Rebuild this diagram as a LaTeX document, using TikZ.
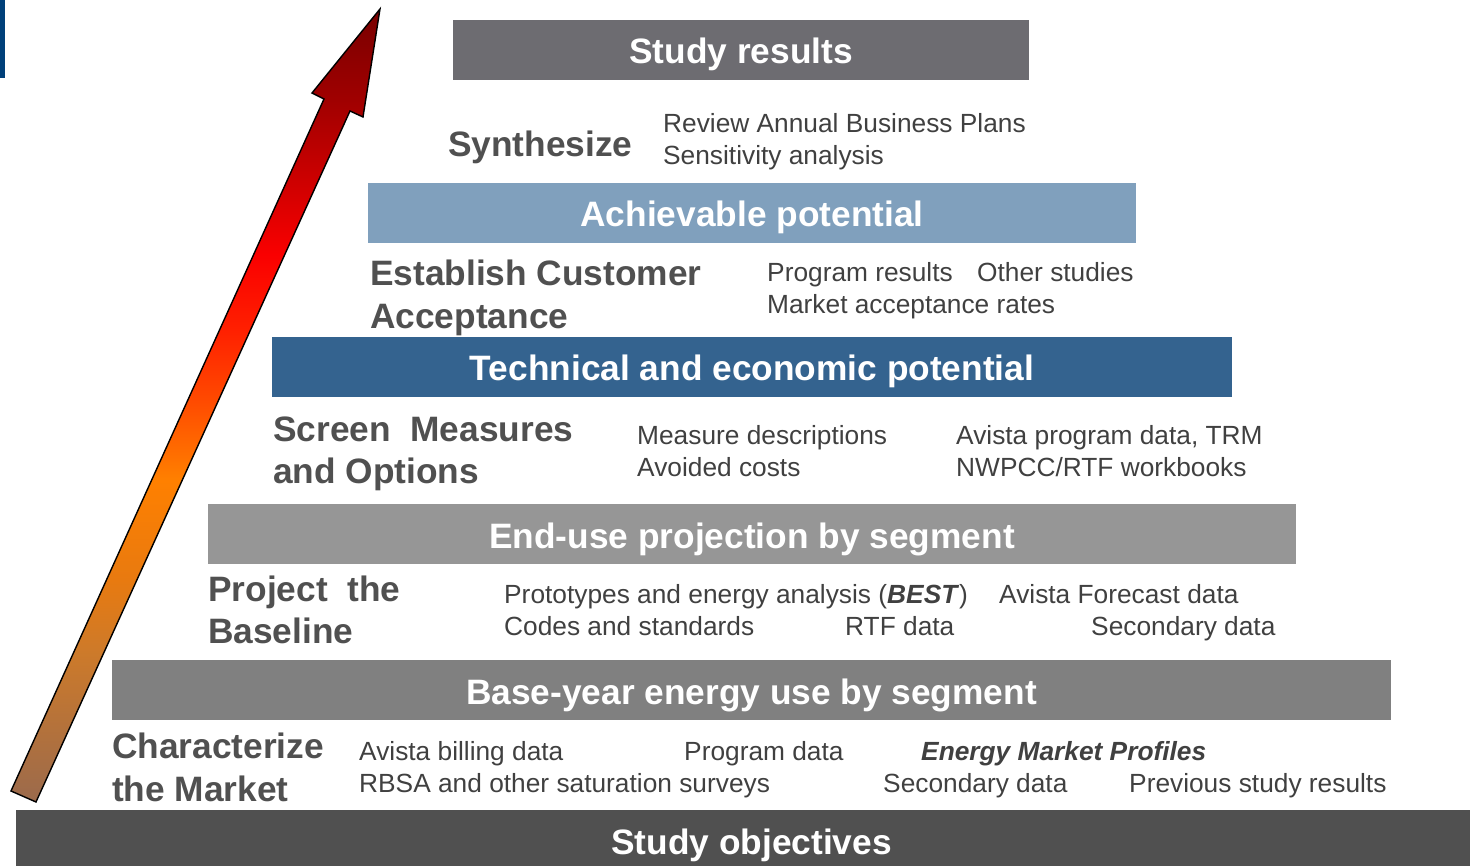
\documentclass[tikz,border=0pt]{standalone}
\usepackage{fontspec}
\setmainfont{Liberation Sans}
\definecolor{cSR}{RGB}{109,108,113}
\definecolor{cAP}{RGB}{128,160,189}
\definecolor{cTE}{RGB}{52,99,143}
\definecolor{cEU}{RGB}{150,150,150}
\definecolor{cBY}{RGB}{128,128,128}
\definecolor{cSO}{RGB}{80,80,80}
\definecolor{cLogo}{RGB}{0,64,122}
\definecolor{lblgray}{RGB}{80,80,80}
\definecolor{txtgray}{RGB}{64,64,64}
\definecolor{ab0}{RGB}{155,106,76}
\definecolor{ab1}{RGB}{205,122,42}
\definecolor{ab2}{RGB}{232,122,16}
\definecolor{ab3}{RGB}{255,128,0}
\definecolor{ab4}{RGB}{255,74,0}
\definecolor{ab5}{RGB}{255,32,0}
\definecolor{ab6}{RGB}{250,0,0}
\definecolor{ab7}{RGB}{216,0,0}
\definecolor{ab8}{RGB}{160,0,0}
\definecolor{ab9}{RGB}{120,0,0}
\pgfdeclareverticalshading{arrowsh}{100bp}{color(0bp)=(ab0); color(25bp)=(ab0); color(34.5bp)=(ab1); color(39bp)=(ab2); color(45.3bp)=(ab3); color(50.35bp)=(ab4); color(54.75bp)=(ab5); color(59.5bp)=(ab6); color(63bp)=(ab7); color(69.25bp)=(ab8); color(75bp)=(ab9); color(100bp)=(ab9)}
\begin{document}
\begin{tikzpicture}[x=1pt,y=-1pt,
  bar/.style={rectangle, inner sep=0pt, outer sep=0pt, draw=none},
  ttl/.style={anchor=base, inner sep=0pt, text=white, font=\fontsize{35.3}{42}\selectfont\bfseries},
  lbl/.style={anchor=base west, inner sep=0pt, text=lblgray, font=\fontsize{35.3}{42}\selectfont\bfseries},
  txt/.style={anchor=base west, inner sep=0pt, text=txtgray, font=\fontsize{26.3}{32}\selectfont}]
\useasboundingbox (0,0) rectangle (1470,866);
% logo strip
\fill[cLogo] (0,0) rectangle (5,78);
% arrow
\shadedraw[shading=arrowsh, draw=black, line width=1.4pt, line join=miter]
  (11,791) -- (324,99) -- (312,93) -- (380,9) -- (363,117) -- (350,111) -- (36,802) -- cycle;
% bars
\node[bar, fill=cSR, minimum width=576pt, minimum height=60pt] (sr) at (741,50) {};
\node[ttl] (srt) at (741,64) {Study results};
\node[bar, fill=cAP, minimum width=768pt, minimum height=60pt] (ap) at (752,213) {};
\node[ttl] (apt) at (752,227) {Achievable potential};
\node[bar, fill=cTE, minimum width=960pt, minimum height=60pt] (te) at (752,367) {};
\node[ttl] (tet) at (752,381) {Technical and economic potential};
\node[bar, fill=cEU, minimum width=1088pt, minimum height=60pt] (eu) at (752,534) {};
\node[ttl] (eut) at (752,548) {End-use projection by segment};
\node[bar, fill=cBY, minimum width=1279pt, minimum height=60pt] (by) at (751.5,690) {};
\node[ttl] (byt) at (751.5,704) {Base-year energy use by segment};
\node[bar, fill=cSO, minimum width=1454pt, minimum height=56pt] (so) at (743,838) {};
\node[ttl] (sot) at (751.5,854) {Study objectives};
% synthesize
\node[lbl] (l1) at (448,157) {Synthesize};
\node[txt] (t1a) at (663,133) {Review Annual Business Plans};
\node[txt] (t1b) at (663,165) {Sensitivity analysis};
% customer acceptance
\node[lbl] (l2a) at (370,286) {Establish Customer};
\node[lbl] (l2b) at (370,329) {Acceptance};
\node[txt] (t2a) at (767,282) {Program results};
\node[txt] (t2b) at (977,282) {Other studies};
\node[txt] (t2c) at (767,314) {Market acceptance rates};
% screen measures
\node[lbl] (l3a) at (273,441) {Screen~~Measures};
\node[lbl] (l3b) at (273,483) {and Options};
\node[txt] (t3a) at (637,444) {Measure descriptions};
\node[txt] (t3b) at (956,444) {Avista program data, TRM};
\node[txt] (t3c) at (637,476) {Avoided costs};
\node[txt] (t3d) at (956,476) {NWPCC/RTF workbooks};
% baseline
\node[lbl] (l4a) at (208,601) {Project~~the};
\node[lbl] (l4b) at (208,643) {Baseline};
\node[txt] (t4a) at (504,603) {Prototypes and energy analysis (\textbf{\textit{BEST}})};
\node[txt] (t4b) at (999,603) {Avista Forecast data};
\node[txt] (t4c) at (504,635) {Codes and standards};
\node[txt] (t4d) at (845,635) {RTF data};
\node[txt] (t4e) at (1091,635) {Secondary data};
% market
\node[lbl] (l5a) at (112,758) {Characterize};
\node[lbl] (l5b) at (112,801) {the Market};
\node[txt] (t5a) at (359,760) {Avista billing data};
\node[txt] (t5b) at (684,760) {Program data};
\node[txt] (t5c) at (921,760) {\textbf{\textit{Energy Market Profiles}}};
\node[txt] (t5d) at (359,792) {RBSA and other saturation surveys};
\node[txt] (t5e) at (883,792) {Secondary data};
\node[txt] (t5f) at (1129,792) {Previous study results};
\end{tikzpicture}
\end{document}
